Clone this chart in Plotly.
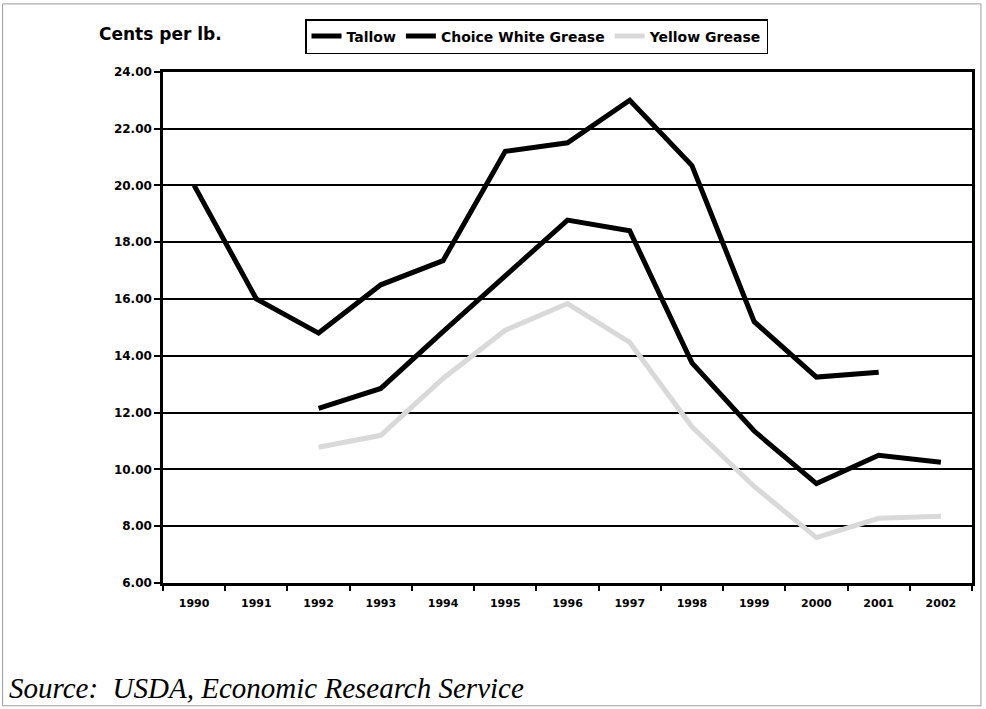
import plotly.graph_objects as go

# Annual prices, cents per lb.
years = ["1990", "1991", "1992", "1993", "1994", "1995", "1996",
         "1997", "1998", "1999", "2000", "2001", "2002"]
tallow = [20.0, 16.0, 14.8, 16.5, 17.35, 21.2, 21.5, 23.0, 20.7, 15.2, 13.25, 13.42, None]
choice_white = [None, None, 12.15, 12.85, 14.85, 16.8, 18.78, 18.4, 13.75, 11.35, 9.5, 10.5, 10.25]
yellow = [None, None, 10.78, 11.2, 13.2, 14.9, 15.84, 14.47, 11.5, 9.4, 7.6, 8.28, 8.35]

y_ticks = [6, 8, 10, 12, 14, 16, 18, 20, 22, 24]
y_tick_labels = [f"{v:.2f}" for v in y_ticks]

fig = go.Figure()
fig.add_trace(go.Scatter(x=years, y=tallow, name="Tallow", mode="lines",
                         line=dict(color="#000000", width=5)))
fig.add_trace(go.Scatter(x=years, y=choice_white, name="Choice White Grease", mode="lines",
                         line=dict(color="#000000", width=5)))
fig.add_trace(go.Scatter(x=years, y=yellow, name="Yellow Grease", mode="lines",
                         line=dict(color="#d9d9d9", width=5)))

sans = "DejaVu Sans, Verdana, sans-serif"

fig.update_layout(
    width=986, height=709,
    margin=dict(l=163, r=11, t=71, b=126),
    paper_bgcolor="white", plot_bgcolor="white",
    showlegend=True,
    legend=dict(
        orientation="h", xref="container", yref="container",
        x=305 / 986, y=1 - 19 / 709, xanchor="left", yanchor="top",
        bordercolor="#000000", borderwidth=1.5, bgcolor="white",
        font=dict(family=sans, size=14, color="#000000", weight="bold"),
        itemwidth=30, tracegroupgap=0,
    ),
    xaxis=dict(
        type="category", range=[-0.5, 12.5],
        showgrid=False, showline=True, linecolor="#000000", linewidth=2.5, mirror=True,
        ticks="outside", tickson="boundaries", ticklen=5, tickcolor="#000000", tickwidth=1.5,
        tickfont=dict(family=sans, size=11, color="#000000", weight="bold"),
        ticklabelstandoff=8, zeroline=False,
    ),
    yaxis=dict(
        range=[6, 24], tickvals=y_ticks, ticktext=y_tick_labels,
        showgrid=True, gridcolor="#000000", gridwidth=1.5,
        showline=True, linecolor="#000000", linewidth=2.5, mirror=True,
        ticks="outside", ticklen=6, tickcolor="#000000", tickwidth=1.5,
        tickfont=dict(family=sans, size=12, color="#000000", weight="bold"),
        zeroline=False,
    ),
    annotations=[
        dict(text="<b>Cents per lb.</b>", xref="paper", yref="paper",
             x=(97 - 163) / 812, y=1 + (71 - 33) / 512, xanchor="left", yanchor="middle",
             showarrow=False, font=dict(family=sans, size=17, color="#000000")),
        dict(text="<i>Source:  USDA, Economic Research Service</i>", xref="paper", yref="paper",
             x=(6 - 163) / 812, y=-(688 - 583) / 512, xanchor="left", yanchor="middle",
             showarrow=False, font=dict(family="Liberation Serif, Times New Roman", size=29, color="#000000")),
    ],
    shapes=[
        dict(type="rect", xref="paper", yref="paper",
             x0=(2 - 163) / 812, x1=(984 - 163) / 812,
             y0=-(706 - 583) / 512, y1=1 + (71 - 3) / 512,
             line=dict(color="#9a9a9a", width=1)),
    ],
)

fig.write_html("out.html")
